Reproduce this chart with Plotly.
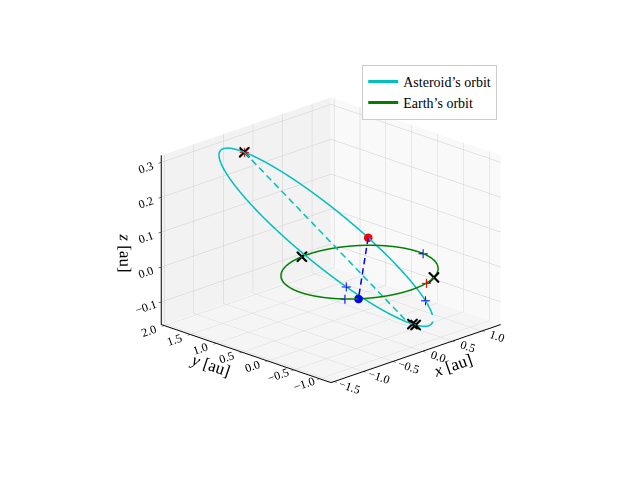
import numpy as np
import plotly.graph_objects as go

# ---- data ----
# asteroid orbital elements (au, degrees)
a_ast = 1.44
e_ast = 0.41
inc_deg = 10.0
node_deg = 50.0
peri_deg = 226.0
earth_radius = 1.0

# marker locations: eccentric anomaly on asteroid orbit / longitude on Earth's orbit (deg)
ast_blackx_E = [180.0, 4.0, 7.0]
earth_blackx_lon = [96.0, -60.0]
ast_redplus_E = [180.0]
earth_redplus_lon = [-73.0]
ast_blueplus_E = [62.0, -39.0]
earth_blueplus_lon = [-5.0, -142.0]
ast_dot_E = [107.0]
earth_dot_lon = [-132.0]
apsides_E = [180.0, 0.0]

x_ticks = [-1.5, -1.0, -0.5, 0.0, 0.5, 1.0]
y_ticks = [-1.0, -0.5, 0.0, 0.5, 1.0, 1.5, 2.0]
z_ticks = [-0.1, 0.0, 0.1, 0.2, 0.3]


def fmt(v, nd=1):
    s = f"{v:.{nd}f}"
    return s.replace("-", "\u2212")


# orbit geometry
inc, Om, w = np.radians([inc_deg, node_deg, peri_deg])
P = np.array([np.cos(Om) * np.cos(w) - np.sin(Om) * np.sin(w) * np.cos(inc),
              np.sin(Om) * np.cos(w) + np.cos(Om) * np.sin(w) * np.cos(inc),
              np.sin(w) * np.sin(inc)])
Q = np.array([-np.cos(Om) * np.sin(w) - np.sin(Om) * np.cos(w) * np.cos(inc),
              -np.sin(Om) * np.sin(w) + np.cos(Om) * np.cos(w) * np.cos(inc),
              np.cos(w) * np.sin(inc)])
b_ast = a_ast * np.sqrt(1 - e_ast ** 2)


def ast_pos(Edeg):
    E = np.radians(np.asarray(Edeg, dtype=float))
    pts = (a_ast * (np.cos(E) - e_ast))[:, None] * P + (b_ast * np.sin(E))[:, None] * Q
    return pts[:, 0], pts[:, 1], pts[:, 2]


def earth_pos(lon):
    L = np.radians(np.asarray(lon, dtype=float))
    return earth_radius * np.cos(L), earth_radius * np.sin(L), np.zeros_like(L)


def dashed(p0, p1, n_dash, duty=0.62):
    """Split the straight segment p0->p1 into n_dash dashes separated by gaps."""
    xs, ys, zs = [], [], []
    for k in range(n_dash):
        t0 = k / n_dash
        t1 = t0 + duty / n_dash
        for t in (t0, t1):
            xs.append(p0[0] + (p1[0] - p0[0]) * t)
            ys.append(p0[1] + (p1[1] - p0[1]) * t)
            zs.append(p0[2] + (p1[2] - p0[2]) * t)
        xs.append(None); ys.append(None); zs.append(None)
    return xs, ys, zs


Egrid = np.linspace(0, 360, 361)
ax_, ay_, az_ = ast_pos(Egrid)
ex_, ey_, ez_ = earth_pos(Egrid)

CYAN = "#00bfbf"
GREEN = "#008000"
FONT = "Liberation Serif"
LW = 3

fig = go.Figure()
fig.add_trace(go.Scatter3d(x=ax_, y=ay_, z=az_, mode="lines", name="Asteroid\u2019s orbit",
                           line=dict(color=CYAN, width=LW)))
fig.add_trace(go.Scatter3d(x=ex_, y=ey_, z=ez_, mode="lines", name="Earth\u2019s orbit",
                           line=dict(color=GREEN, width=LW)))

# apsidal line (dashed cyan)
px, py, pz = ast_pos(apsides_E)
cx, cy, cz = dashed((px[0], py[0], pz[0]), (px[1], py[1], pz[1]), 22)
fig.add_trace(go.Scatter3d(x=cx, y=cy, z=cz, mode="lines", showlegend=False,
                           connectgaps=False, line=dict(color=CYAN, width=LW)))

# connection between the two dots (dashed blue)
dx1, dy1, dz1 = ast_pos(ast_dot_E)
dx2, dy2, dz2 = earth_pos(earth_dot_lon)
bx, by, bz = dashed((dx1[0], dy1[0], dz1[0]), (dx2[0], dy2[0], dz2[0]), 6)
fig.add_trace(go.Scatter3d(x=bx, y=by, z=bz, mode="lines", showlegend=False,
                           connectgaps=False, line=dict(color="blue", width=LW)))


def add_markers(pos, symbol, color, size):
    x, y, z = pos
    fig.add_trace(go.Scatter3d(x=x, y=y, z=z, mode="markers", showlegend=False,
                               marker=dict(symbol=symbol, color=color, size=size,
                                           line=dict(width=0))))


add_markers(ast_pos(ast_redplus_E), "cross", "red", 5)
add_markers(earth_pos(earth_redplus_lon), "cross", "red", 5)
add_markers(ast_pos(ast_blueplus_E), "cross", "blue", 5)
add_markers(earth_pos(earth_blueplus_lon), "cross", "blue", 5)
add_markers(ast_pos(ast_blackx_E), "x", "black", 2.5)
add_markers(earth_pos(earth_blackx_lon), "x", "black", 2.5)
add_markers(ast_pos(ast_dot_E), "circle", "red", 5)
add_markers(earth_pos(earth_dot_lon), "circle", "blue", 5)


def axis(title, rng, ticks, bg):
    return dict(title=dict(text=title, font=dict(family=FONT, size=17, color="black")),
                range=rng, tickvals=ticks, ticktext=[fmt(t) for t in ticks],
                tickfont=dict(family=FONT, size=12, color="black"),
                showbackground=True, backgroundcolor=bg,
                gridcolor="rgb(205,205,205)", gridwidth=1,
                showline=True, linecolor="black", linewidth=2,
                ticks="outside", tickcolor="black", ticklen=4,
                zeroline=False, showspikes=False, autorange=False)


elev, azim, dist = np.radians(20), np.radians(-135), 2.5
eye = dict(x=dist * np.cos(elev) * np.cos(azim), y=dist * np.cos(elev) * np.sin(azim),
           z=dist * np.sin(elev))

fig.update_layout(
    width=640, height=480,
    margin=dict(l=0, r=0, t=0, b=0),
    paper_bgcolor="white",
    font=dict(family=FONT, color="black"),
    scene=dict(
        xaxis=axis("<i>x</i> [au]", [-1.55, 1.32], x_ticks, "rgb(249,249,249)"),
        yaxis=axis("<i>y</i> [au]", [-1.22, 2.06], y_ticks, "rgb(242,242,242)"),
        zaxis=axis("<i>z</i> [au]", [-0.165, 0.32], z_ticks, "rgb(245,245,245)"),
        aspectmode="manual", aspectratio=dict(x=1, y=1, z=0.75),
        camera=dict(eye=eye, center=dict(x=0, y=0, z=0), up=dict(x=0, y=0, z=1),
                    projection=dict(type="orthographic")),
        domain=dict(x=[0.035, 1], y=[0, 1]),
    ),
    legend=dict(x=0.566, y=0.865, xanchor="left", yanchor="top",
                bgcolor="white", bordercolor="#cccccc", borderwidth=1,
                font=dict(family=FONT, size=14, color="black")),
)

fig.write_html("out.html")
